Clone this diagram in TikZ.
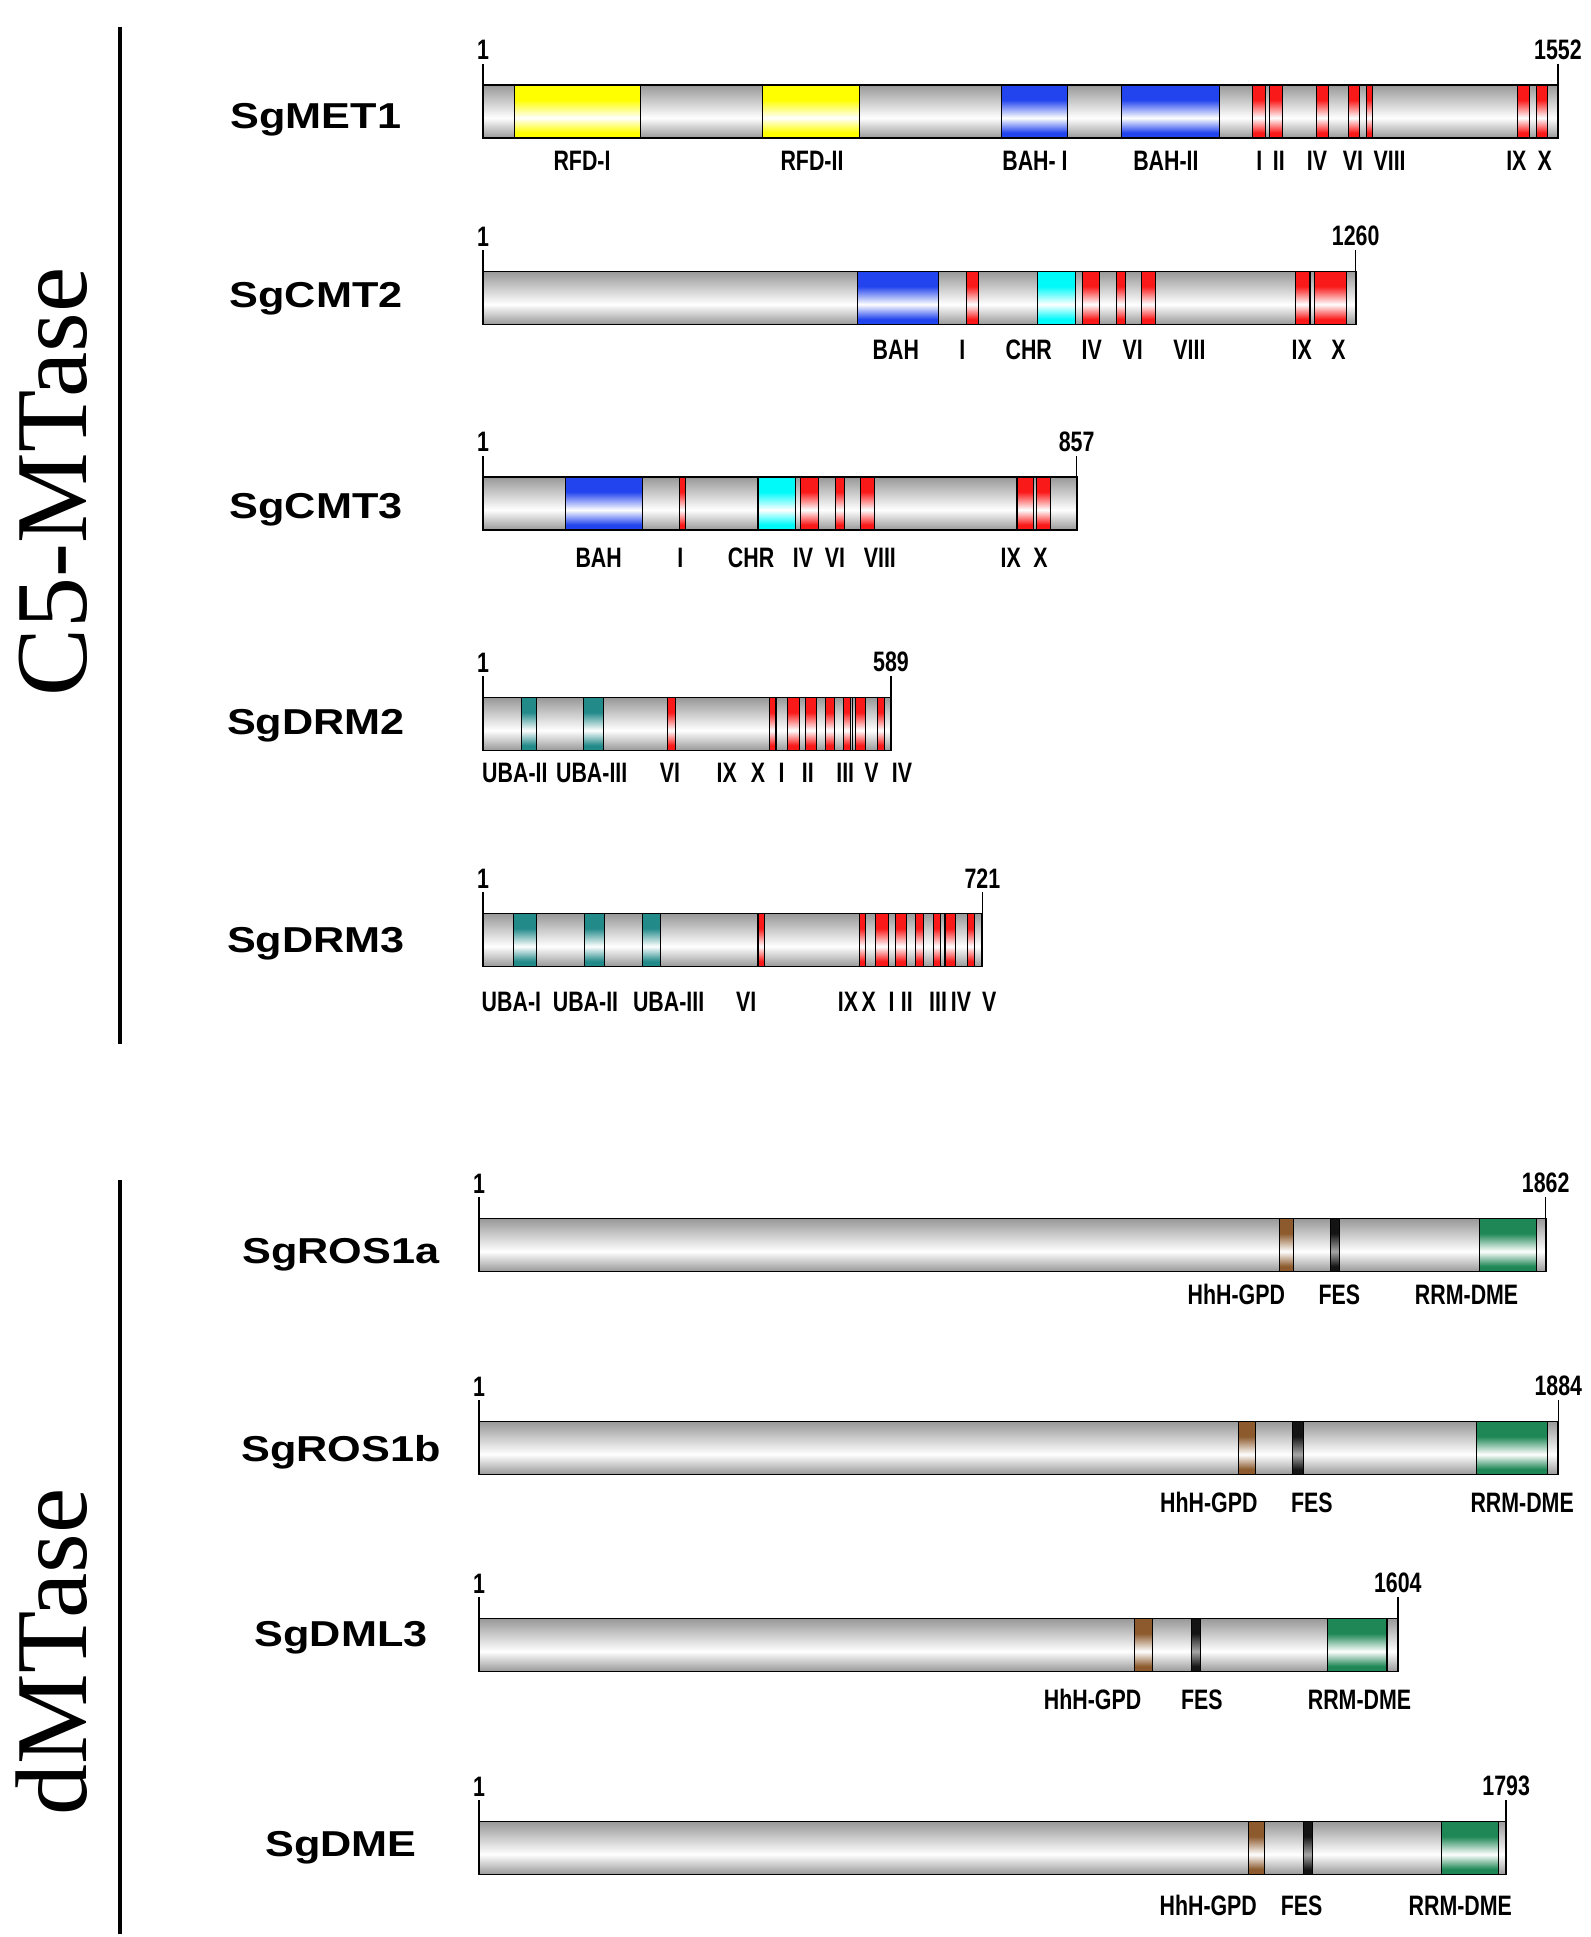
\documentclass[tikz,border=0pt]{standalone}
\usepackage{fontspec}
\setmainfont{Liberation Sans}
\newfontfamily\namefont[FakeStretch=1.2]{Liberation Sans}
\newfontfamily\labelfont[FakeStretch=0.76]{Liberation Sans}
\newfontfamily\titlefont{Liberation Serif}
\usetikzlibrary{positioning}
\definecolor{bargray}{RGB}{152,152,152}
\definecolor{dyellow}{RGB}{255,255,0}
\definecolor{dblue}{RGB}{34,68,238}
\definecolor{dred}{RGB}{250,25,25}
\definecolor{dcyan}{RGB}{0,250,250}
\definecolor{dteal}{RGB}{35,138,138}
\definecolor{dbrown}{RGB}{140,90,45}
\definecolor{dfes}{RGB}{20,20,20}
\definecolor{dgreen}{RGB}{30,135,85}
% vertical shadings: path box runs from 25bp (bottom) to 75bp (top)
\pgfdeclareverticalshading{shbar}{100bp}{color(0bp)=(bargray); color(25bp)=(bargray); color(44bp)=(white); color(75bp)=(bargray); color(100bp)=(bargray)}
\pgfdeclareverticalshading{shdyellow}{100bp}{color(0bp)=(dyellow); color(30bp)=(dyellow); color(44bp)=(white); color(61bp)=(dyellow); color(100bp)=(dyellow)}
\pgfdeclareverticalshading{shdblue}{100bp}{color(0bp)=(dblue); color(30bp)=(dblue); color(44bp)=(white); color(61bp)=(dblue); color(100bp)=(dblue)}
\pgfdeclareverticalshading{shdred}{100bp}{color(0bp)=(dred); color(30bp)=(dred); color(44bp)=(white); color(61bp)=(dred); color(100bp)=(dred)}
\pgfdeclareverticalshading{shdcyan}{100bp}{color(0bp)=(dcyan); color(30bp)=(dcyan); color(44bp)=(white); color(61bp)=(dcyan); color(100bp)=(dcyan)}
\pgfdeclareverticalshading{shdteal}{100bp}{color(0bp)=(dteal); color(30bp)=(dteal); color(44bp)=(white); color(61bp)=(dteal); color(100bp)=(dteal)}
\pgfdeclareverticalshading{shdbrown}{100bp}{color(0bp)=(dbrown); color(30bp)=(dbrown); color(44bp)=(white); color(61bp)=(dbrown); color(100bp)=(dbrown)}
\pgfdeclareverticalshading{shdfes}{100bp}{color(0bp)=(dfes); color(30bp)=(dfes); color(44bp)=(gray!70); color(61bp)=(dfes); color(100bp)=(dfes)}
\pgfdeclareverticalshading{shdgreen}{100bp}{color(0bp)=(dgreen); color(30bp)=(dgreen); color(44bp)=(white); color(61bp)=(dgreen); color(100bp)=(dgreen)}
\tikzset{
    protname/.style={font=\namefont\bfseries\fontsize{20.5}{22}\selectfont,anchor=base,inner sep=0pt},
    domlabel/.style={font=\labelfont\bfseries\fontsize{16}{17}\selectfont,anchor=base,inner sep=0pt},
    posnum/.style={font=\labelfont\bfseries\fontsize{16}{17}\selectfont,anchor=south,inner sep=2pt},
    grouptitle/.style={font=\titlefont\fontsize{58}{60}\selectfont,rotate=90,anchor=base,inner sep=0pt},
    groupline/.style={line width=2.8pt},
    barfill/.style={shading=shbar},
    domfill/.style={shading=sh#1,draw=black,line width=0.6pt},
    barline/.style={draw=black,line width=1.1pt},
    postick/.style={line width=0.8pt}
}

\begin{document}
\begin{tikzpicture}[x=0.02cm,y=-0.02cm]
\useasboundingbox (0,0) rectangle (1590,1937);

% group titles and rules
\node[grouptitle] (c5title) at (86,482) {C5-MTase};
\node[grouptitle] (dmtitle) at (86,1652) {dMTase};
\coordinate (c5top) at (120,27);
\coordinate (c5bot) at (120,1044);
\coordinate (dmtop) at (120,1180);
\coordinate (dmbot) at (120,1934);
\draw[groupline] (c5top) -- (c5bot);
\draw[groupline] (dmtop) -- (dmbot);

% protein names
\node[protname] (met1) at (316,128) {SgMET1};
\node[protname] (cmt2) at (316,307) {SgCMT2};
\node[protname] (cmt3) at (316,518) {SgCMT3};
\node[protname] (drm2) at (316,734) {SgDRM2};
\node[protname] (drm3) at (316,952) {SgDRM3};
\node[protname] (ros1a) at (341,1263) {SgROS1a};
\node[protname] (ros1b) at (341,1461) {SgROS1b};
\node[protname] (dml3) at (341,1646) {SgDML3};
\node[protname] (dme) at (341,1856) {SgDME};

% SgMET1
\begin{scope}[shift={(483,111.5)},x=0.01385cm]
    \shade[barfill] (0,-26.5) rectangle (1552,26.5);
    \foreach \a/\b in {46/227,404/544}
        \shade[domfill=dyellow] (\a,-26.5) rectangle (\b,26.5);
    \foreach \a/\b in {748/844,922/1063}
        \shade[domfill=dblue] (\a,-26.5) rectangle (\b,26.5);
    \foreach \a/\b in {1111/1130,1135/1154,1203/1221,1250/1266,1276/1284,1494/1511,1521/1537}
        \shade[domfill=dred] (\a,-26.5) rectangle (\b,26.5);
    \draw[barline] (0,-26.5) rectangle (1552,26.5);
    \coordinate (met1-s) at (0,-26.5);
    \coordinate (met1-e) at (1552,-26.5);
    \node[posnum] (met1-n1) at (0,-48) {1};
    \node[posnum] (met1-n2) at (1552,-48) {1552};
    \draw[postick] (met1-s) -- (met1-n1.south);
    \draw[postick] (met1-e) -- (met1-n2.south);
    \foreach \p/\t [count=\i] in {143/RFD-I,475/RFD-II,797/BAH- I,986/BAH-II,1121/I,1149/II,1204/IV,1256/VI,1309/VIII,1492/IX,1533/X}
        \node[domlabel] (met1-d\i) at (\p,58.5) {\t};
\end{scope}

% SgCMT2
\begin{scope}[shift={(483,298)},x=0.01385cm]
    \shade[barfill] (0,-26.5) rectangle (1260,26.5);
    \shade[domfill=dblue] (541,-26.5) rectangle (658,26.5);
    \shade[domfill=dcyan] (800,-26.5) rectangle (855,26.5);
    \foreach \a/\b in {698/715,865/890,914/928,951/971,1173/1194,1200/1247}
        \shade[domfill=dred] (\a,-26.5) rectangle (\b,26.5);
    \draw[barline] (0,-26.5) rectangle (1260,26.5);
    \coordinate (cmt2-s) at (0,-26.5);
    \coordinate (cmt2-e) at (1260,-26.5);
    \node[posnum] (cmt2-n1) at (0,-48) {1};
    \node[posnum] (cmt2-n2) at (1260,-48) {1260};
    \draw[postick] (cmt2-s) -- (cmt2-n1.south);
    \draw[postick] (cmt2-e) -- (cmt2-n2.south);
    \foreach \p/\t [count=\i] in {596/BAH,692/I,788/CHR,879/IV,938/VI,1020/VIII,1182/IX,1235/X}
        \node[domlabel] (cmt2-d\i) at (\p,61.5) {\t};
\end{scope}

% SgCMT3
\begin{scope}[shift={(483,503.5)},x=0.01385cm]
    \shade[barfill] (0,-26.5) rectangle (857,26.5);
    \shade[domfill=dblue] (119,-26.5) rectangle (230,26.5);
    \shade[domfill=dcyan] (397,-26.5) rectangle (451,26.5);
    \foreach \a/\b in {284/292,459/484,509/522,545/565,771/795,799/819}
        \shade[domfill=dred] (\a,-26.5) rectangle (\b,26.5);
    \draw[barline] (0,-26.5) rectangle (857,26.5);
    \coordinate (cmt3-s) at (0,-26.5);
    \coordinate (cmt3-e) at (857,-26.5);
    \node[posnum] (cmt3-n1) at (0,-48) {1};
    \node[posnum] (cmt3-n2) at (857,-48) {857};
    \draw[postick] (cmt3-s) -- (cmt3-n1.south);
    \draw[postick] (cmt3-e) -- (cmt3-n2.south);
    \foreach \p/\t [count=\i] in {167/BAH,285/I,387/CHR,462/IV,508/VI,573/VIII,762/IX,805/X}
        \node[domlabel] (cmt3-d\i) at (\p,63.5) {\t};
\end{scope}

% SgDRM2
\begin{scope}[shift={(483,724)},x=0.01385cm]
    \shade[barfill] (0,-26.5) rectangle (589,26.5);
    \foreach \a/\b in {55/77,145/174}
        \shade[domfill=dteal] (\a,-26.5) rectangle (\b,26.5);
    \foreach \a/\b in {267/278,414/423,439/457,466/482,495/507,521/531,538/552,569/579}
        \shade[domfill=dred] (\a,-26.5) rectangle (\b,26.5);
    \draw[line width=0.6pt] (534,-26.5) -- (534,26.5);
    \draw[barline] (0,-26.5) rectangle (589,26.5);
    \coordinate (drm2-s) at (0,-26.5);
    \coordinate (drm2-e) at (589,-26.5);
    \node[posnum] (drm2-n1) at (0,-48) {1};
    \node[posnum] (drm2-n2) at (589,-48) {589};
    \draw[postick] (drm2-s) -- (drm2-n1.south);
    \draw[postick] (drm2-e) -- (drm2-n2.south);
    \foreach \p/\t [count=\i] in {46/UBA-II,157/UBA-III,270/VI,352/IX,397/X,431/I,469/II,523/III,561/V,605/IV}
        \node[domlabel] (drm2-d\i) at (\p,58) {\t};
\end{scope}

% SgDRM3
\begin{scope}[shift={(483,940)},x=0.01385cm]
    \shade[barfill] (0,-26.5) rectangle (721,26.5);
    \foreach \a/\b in {44/77.5,146/176,230/256}
        \shade[domfill=dteal] (\a,-26.5) rectangle (\b,26.5);
    \foreach \a/\b in {397/407,544/552,567/586,595/612,624/636,651/660,667/682,699/709}
        \shade[domfill=dred] (\a,-26.5) rectangle (\b,26.5);
    \draw[barline] (0,-26.5) rectangle (721,26.5);
    \coordinate (drm3-s) at (0,-26.5);
    \coordinate (drm3-e) at (721,-26.5);
    \node[posnum] (drm3-n1) at (0,-48) {1};
    \node[posnum] (drm3-n2) at (721,-48) {721};
    \draw[postick] (drm3-s) -- (drm3-n1.south);
    \draw[postick] (drm3-e) -- (drm3-n2.south);
    \foreach \p/\t [count=\i] in {41/UBA-I,148/UBA-II,268/UBA-III,380/VI,527/IX,557/X,590/I,612/II,657/III,690/IV,731/V}
        \node[domlabel] (drm3-d\i) at (\p,71) {\t};
\end{scope}

% SgROS1a
\begin{scope}[shift={(479,1245)},x=0.011466cm]
    \shade[barfill] (0,-26.5) rectangle (1862,26.5);
    \shade[domfill=dbrown] (1398,-26.5) rectangle (1421,26.5);
    \shade[domfill=dfes] (1486,-26.5) rectangle (1502,26.5);
    \shade[domfill=dgreen] (1747,-26.5) rectangle (1846,26.5);
    \draw[barline] (0,-26.5) rectangle (1862,26.5);
    \coordinate (ros1a-s) at (0,-26.5);
    \coordinate (ros1a-e) at (1862,-26.5);
    \node[posnum] (ros1a-n1) at (0,-48) {1};
    \node[posnum] (ros1a-n2) at (1862,-48) {1862};
    \draw[postick] (ros1a-s) -- (ros1a-n1.south);
    \draw[postick] (ros1a-e) -- (ros1a-n2.south);
    \foreach \p/\t [count=\i] in {1322/HhH-GPD,1502/FES,1724/RRM-DME}
        \node[domlabel] (ros1a-d\i) at (\p,59) {\t};
\end{scope}

% SgROS1b
\begin{scope}[shift={(479,1448)},x=0.011466cm]
    \shade[barfill] (0,-26.5) rectangle (1884,26.5);
    \shade[domfill=dbrown] (1326,-26.5) rectangle (1355,26.5);
    \shade[domfill=dfes] (1420,-26.5) rectangle (1439,26.5);
    \shade[domfill=dgreen] (1741,-26.5) rectangle (1865,26.5);
    \draw[barline] (0,-26.5) rectangle (1884,26.5);
    \coordinate (ros1b-s) at (0,-26.5);
    \coordinate (ros1b-e) at (1884,-26.5);
    \node[posnum] (ros1b-n1) at (0,-48) {1};
    \node[posnum] (ros1b-n2) at (1884,-48) {1884};
    \draw[postick] (ros1b-s) -- (ros1b-n1.south);
    \draw[postick] (ros1b-e) -- (ros1b-n2.south);
    \foreach \p/\t [count=\i] in {1274/HhH-GPD,1454/FES,1821/RRM-DME}
        \node[domlabel] (ros1b-d\i) at (\p,64) {\t};
\end{scope}

% SgDML3
\begin{scope}[shift={(479,1645)},x=0.011466cm]
    \shade[barfill] (0,-26.5) rectangle (1604,26.5);
    \shade[domfill=dbrown] (1145,-26.5) rectangle (1175,26.5);
    \shade[domfill=dfes] (1243,-26.5) rectangle (1259,26.5);
    \shade[domfill=dgreen] (1481,-26.5) rectangle (1585,26.5);
    \draw[barline] (0,-26.5) rectangle (1604,26.5);
    \coordinate (dml3-s) at (0,-26.5);
    \coordinate (dml3-e) at (1604,-26.5);
    \node[posnum] (dml3-n1) at (0,-48) {1};
    \node[posnum] (dml3-n2) at (1604,-48) {1604};
    \draw[postick] (dml3-s) -- (dml3-n1.south);
    \draw[postick] (dml3-e) -- (dml3-n2.south);
    \foreach \p/\t [count=\i] in {1071/HhH-GPD,1262/FES,1537/RRM-DME}
        \node[domlabel] (dml3-d\i) at (\p,64) {\t};
\end{scope}

% SgDME
\begin{scope}[shift={(479,1848)},x=0.011466cm]
    \shade[barfill] (0,-26.5) rectangle (1793,26.5);
    \shade[domfill=dbrown] (1344,-26.5) rectangle (1371,26.5);
    \shade[domfill=dfes] (1439,-26.5) rectangle (1455,26.5);
    \shade[domfill=dgreen] (1680,-26.5) rectangle (1779,26.5);
    \draw[barline] (0,-26.5) rectangle (1793,26.5);
    \coordinate (dme-s) at (0,-26.5);
    \coordinate (dme-e) at (1793,-26.5);
    \node[posnum] (dme-n1) at (0,-48) {1};
    \node[posnum] (dme-n2) at (1793,-48) {1793};
    \draw[postick] (dme-s) -- (dme-n1.south);
    \draw[postick] (dme-e) -- (dme-n2.south);
    \foreach \p/\t [count=\i] in {1273/HhH-GPD,1436/FES,1713/RRM-DME}
        \node[domlabel] (dme-d\i) at (\p,67) {\t};
\end{scope}

\end{tikzpicture}
\end{document}
